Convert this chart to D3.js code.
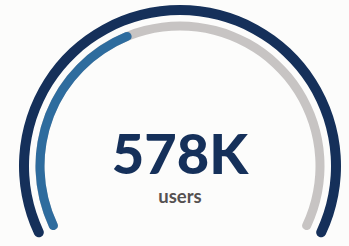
<!DOCTYPE html>
<html>
<head>
<meta charset="utf-8">
<script src="https://cdn.jsdelivr.net/npm/d3@7"></script>
<style>
  html, body { margin: 0; padding: 0; background: #fcfcfb; }
  svg { display: block; }
</style>
</head>
<body>
<div id="chart"></div>
<script>
var width  = 349;
var height = 246;

// gauge data
var value = 578000;
var maxValue = 1400000;
var valueLabel = ["578K"];
var unitLabel = ["users"];

var cx = 180, cy = 166;
var outerR = 156, innerR = 140;
var deg = Math.PI / 180;

// angle scale, 0 at twelve o'clock
var angle = d3.scaleLinear()
  .domain([0, maxValue])
  .range([-117 * deg, 117 * deg]);

function band(r, w) {
  return d3.arc()
    .innerRadius(r - w / 2)
    .outerRadius(r + w / 2)
    .cornerRadius(w / 2);
}

var svg = d3.select("#chart").append("svg")
  .attr("width", width)
  .attr("height", height);

svg.append("rect")
  .attr("width", width).attr("height", height)
  .attr("fill", "#fcfcfb");

var g = svg.append("g")
  .attr("transform", "translate(" + cx + "," + cy + ")");

// outer frame
g.append("path")
  .attr("d", band(outerR, 10)({startAngle: angle(0), endAngle: angle(maxValue)}))
  .attr("fill", "#15305a");

// track
g.append("path")
  .attr("d", band(innerR, 9)({startAngle: angle(0), endAngle: angle(maxValue)}))
  .attr("fill", "#c7c4c3");

// value
g.append("path")
  .attr("d", band(innerR, 9)({startAngle: angle(0), endAngle: angle(value)}))
  .attr("fill", "#2e6c9e");

svg.append("text")
  .attr("x", cx)
  .attr("y", 174)
  .attr("text-anchor", "middle")
  .attr("font-family", "Lato, 'Open Sans', sans-serif")
  .attr("font-weight", 900)
  .attr("font-size", 56)
  .attr("fill", "#15305a")
  .text(valueLabel[0]);

svg.append("text")
  .attr("x", cx)
  .attr("y", 203)
  .attr("text-anchor", "middle")
  .attr("font-family", "Lato, 'Open Sans', sans-serif")
  .attr("font-weight", 700)
  .attr("font-size", 18.5)
  .attr("fill", "#555151")
  .text(unitLabel[0]);
</script>
</body>
</html>
